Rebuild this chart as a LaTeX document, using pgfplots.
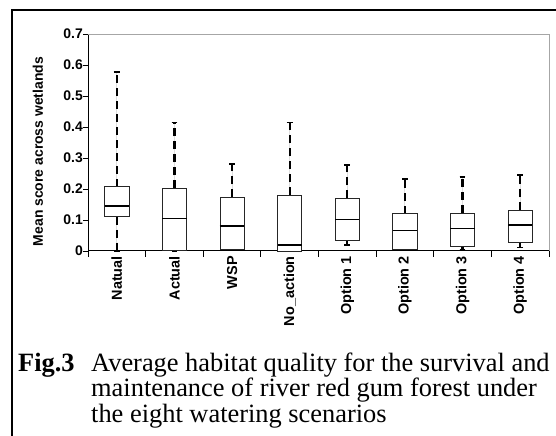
\documentclass[border=0pt]{standalone}
\usepackage{pgfplots}
\pgfplotsset{compat=1.18}
\usepgfplotslibrary{statistics}
\usepackage{fontspec}
\setmainfont{Liberation Serif}
\newfontfamily\arial{Liberation Sans}

\pgfplotsset{
  mybox/.style={
    boxplot prepared={#1},
    draw=black!85, fill=white, line width=0.8bp, solid,
  },
}

\begin{document}
\begin{tikzpicture}[x=1bp,y=1bp]
\useasboundingbox (0,0) rectangle (556,436);
\draw[line width=1.8bp] (12,-5) -- (12,426) -- (562,426);
\begin{axis}[
  at={(88bp,185bp)}, anchor=south west,
  scale only axis, width=461bp, height=217bp,
  xmin=-0.5, xmax=7.5, ymin=0, ymax=0.7,
  axis x line*=bottom, axis y line*=left,
  axis line style={black, line width=1bp, -},
  ytick={0,0.1,0.2,0.3,0.4,0.5,0.6,0.7},
  yticklabels={0,0.1,0.2,0.3,0.4,0.5,0.6,0.7},
  xtick={0,1,2,3,4,5,6,7},
  xticklabels={Natual,Actual,WSP,No\_action,Option 1,Option 2,Option 3,Option 4},
  minor xtick={-0.5,0.5,1.5,2.5,3.5,4.5,5.5,6.5,7.5},
  tick align=outside,
  major tick length=5bp, minor tick length=6bp,
  major x tick style={draw=none},
  tick style={black, line width=0.8bp},
  x tick label style={rotate=90, anchor=east, font=\arial\bfseries\fontsize{14.5}{16}\selectfont, inner sep=0pt},
  y tick label style={font=\arial\bfseries\fontsize{14}{16}\selectfont, inner sep=0pt},
  ylabel={\arial\bfseries\fontsize{14}{16}\selectfont Mean score across wetlands},
  every axis y label/.style={at={(rel axis cs:0,0)}, xshift=-50bp, yshift=99.5bp, rotate=90, anchor=center, inner sep=0pt},
  clip=false,
  boxplot/draw direction=y,
  boxplot/box extend=0.42,
  boxplot/whisker extend=0.1,
  boxplot/draw/upper whisker/.code={%
    \draw[black, line width=2.2bp, dash pattern=on 8bp off 5bp]
      (boxplot box cs:\pgfplotsboxplotvalue{upper quartile},0.5) --
      (boxplot box cs:\pgfplotsboxplotvalue{upper whisker},0.5);
    \draw[black, line width=1.6bp]
      (boxplot whisker cs:\pgfplotsboxplotvalue{upper whisker},0) --
      (boxplot whisker cs:\pgfplotsboxplotvalue{upper whisker},1);
  },
  boxplot/draw/lower whisker/.code={%
    \draw[black, line width=2.2bp, dash pattern=on 8bp off 5bp]
      (boxplot box cs:\pgfplotsboxplotvalue{lower quartile},0.5) --
      (boxplot box cs:\pgfplotsboxplotvalue{lower whisker},0.5);
    \draw[black, line width=1.6bp]
      (boxplot whisker cs:\pgfplotsboxplotvalue{lower whisker},0) --
      (boxplot whisker cs:\pgfplotsboxplotvalue{lower whisker},1);
  },
  boxplot/every median/.style={black, line width=1.3bp},
]
\draw[gray!70, line width=0.8bp] (rel axis cs:0,1) -- (rel axis cs:1,1) -- (rel axis cs:1,0);

\addplot+[mybox={draw position=0, lower whisker=0.0, lower quartile=0.111, median=0.145, upper quartile=0.207, upper whisker=0.578}] coordinates {};
\addplot+[mybox={draw position=1, lower whisker=0.0, lower quartile=0.003, median=0.105, upper quartile=0.202, upper whisker=0.414}] coordinates {};
\addplot+[mybox={draw position=2, lower whisker=0.004, lower quartile=0.006, median=0.081, upper quartile=0.173, upper whisker=0.281}] coordinates {};
\addplot+[mybox={draw position=3, lower whisker=0.0, lower quartile=0.0, median=0.019, upper quartile=0.180, upper whisker=0.414}] coordinates {};
\addplot+[mybox={draw position=4, lower whisker=0.019, lower quartile=0.035, median=0.101, upper quartile=0.170, upper whisker=0.278}] coordinates {};
\addplot+[mybox={draw position=5, lower whisker=0.003, lower quartile=0.005, median=0.065, upper quartile=0.120, upper whisker=0.232}] coordinates {};
\addplot+[mybox={draw position=6, lower whisker=0.005, lower quartile=0.014, median=0.072, upper quartile=0.122, upper whisker=0.239}] coordinates {};
\addplot+[mybox={draw position=7, lower whisker=0.011, lower quartile=0.027, median=0.084, upper quartile=0.131, upper whisker=0.246}] coordinates {};
\end{axis}
\node[anchor=base west, inner sep=0pt, font=\fontsize{26.5}{26.5}\selectfont\bfseries] at (18,64) {Fig.3};
\node[anchor=base west, inner sep=0pt, font=\fontsize{26.5}{26.5}\selectfont] at (91,64) {Average habitat quality for the survival and};
\node[anchor=base west, inner sep=0pt, font=\fontsize{26.5}{26.5}\selectfont] at (91,39) {maintenance of river red gum forest under};
\node[anchor=base west, inner sep=0pt, font=\fontsize{26.5}{26.5}\selectfont] at (91,13) {the eight watering scenarios};
\end{tikzpicture}
\end{document}
